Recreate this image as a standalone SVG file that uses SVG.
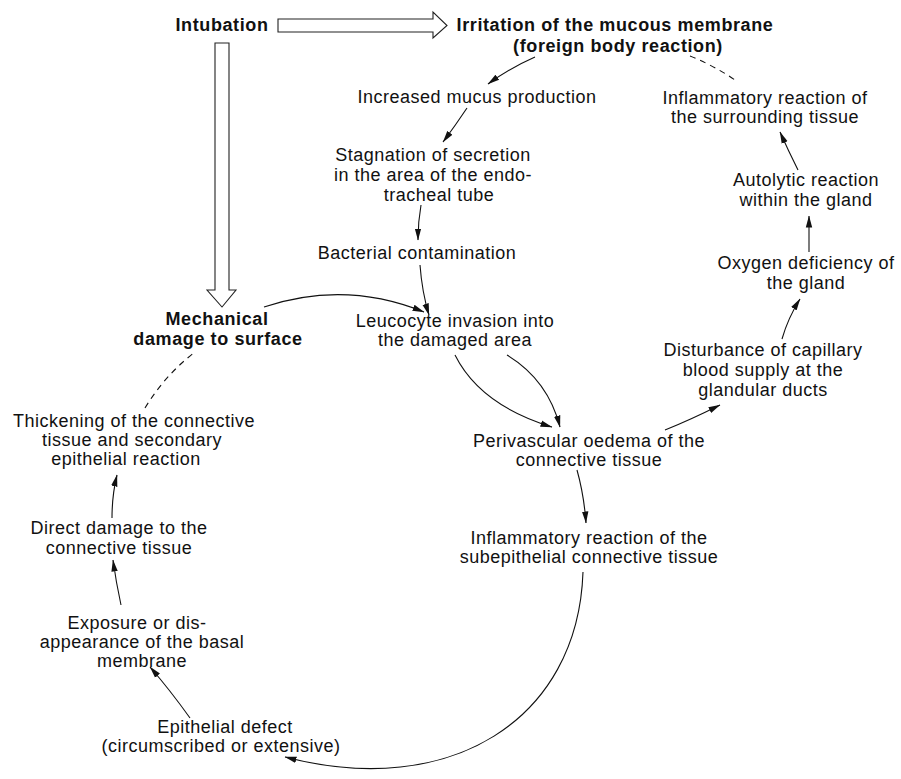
<svg xmlns="http://www.w3.org/2000/svg" width="901" height="779" viewBox="0 0 901 779">
<style>
text{font-family:"Liberation Sans",Arial,Helvetica,sans-serif;font-size:18px;letter-spacing:0.5px;fill:#111;text-anchor:middle}
.b{font-weight:bold;letter-spacing:0.6px}
.c{fill:none;stroke:#111;stroke-width:1.1}
.a{marker-end:url(#ah)}
.d{stroke-dasharray:6 5}
.blk{fill:#fff;stroke:#222;stroke-width:1.1}
</style>
<defs>
<marker id="ah" viewBox="0 0 12 8" refX="11.5" refY="4" markerWidth="12" markerHeight="8" orient="auto" markerUnits="userSpaceOnUse">
<path d="M0,0.8 L12,4 L0,7.2 z" fill="#111"/>
</marker>
</defs>
<rect width="901" height="779" fill="#fff"/>

<g id="block-arrows">
<path class="blk" d="M278,19 L433,19 L433,12 L447,25.5 L433,38 L433,32 L278,32 Z"/>
<path class="blk" d="M215,43 L229,43 L229,290 L236,290 L222,307 L207,290 L215,290 Z"/>
</g>

<g id="n-intubation"><text class="b" x="222" y="31">Intubation</text></g>
<g id="n-irritation"><text class="b" x="615" y="31">Irritation of the mucous membrane</text><text class="b" x="618" y="52">(foreign body reaction)</text></g>
<g id="n-mucus"><text x="477" y="103">Increased mucus production</text></g>
<g id="n-stagnation"><text x="433" y="161">Stagnation of secretion</text><text x="433" y="181">in the area of the endo-</text><text x="439" y="201">tracheal tube</text></g>
<g id="n-bacterial"><text x="417" y="259">Bacterial contamination</text></g>
<g id="n-leucocyte"><text x="455" y="327">Leucocyte invasion into</text><text x="455" y="346">the damaged area</text></g>
<g id="n-mechanical"><text class="b" x="217" y="325">Mechanical</text><text class="b" x="218" y="345">damage to surface</text></g>
<g id="n-perivascular"><text x="589" y="447">Perivascular oedema of the</text><text x="589" y="466">connective tissue</text></g>
<g id="n-subepithelial"><text x="589" y="544">Inflammatory reaction of the</text><text x="589" y="563">subepithelial connective tissue</text></g>
<g id="n-surrounding"><text x="765" y="104">Inflammatory reaction of</text><text x="765" y="123">the surrounding tissue</text></g>
<g id="n-autolytic"><text x="806" y="186">Autolytic reaction</text><text x="806" y="206">within the gland</text></g>
<g id="n-oxygen"><text x="806" y="269">Oxygen deficiency of</text><text x="806" y="289">the gland</text></g>
<g id="n-disturbance"><text x="763" y="356">Disturbance of capillary</text><text x="763" y="376">blood supply at the</text><text x="763" y="396">glandular ducts</text></g>
<g id="n-thickening"><text x="134" y="427">Thickening of the connective</text><text x="132" y="446">tissue and secondary</text><text x="126" y="465">epithelial reaction</text></g>
<g id="n-direct"><text x="119" y="534">Direct damage to the</text><text x="119" y="554">connective tissue</text></g>
<g id="n-exposure"><text x="137" y="629">Exposure or dis-</text><text x="142" y="648">appearance of the basal</text><text x="142" y="667">membrane</text></g>
<g id="n-epithelial"><text x="225" y="733">Epithelial defect</text><text x="221" y="752">(circumscribed or extensive)</text></g>

<g id="connectors">
<path class="c a" d="M535,57 Q510,68 488,84"/>
<path class="c a" d="M467,108 Q455,126 443,142"/>
<path class="c a" d="M421,205 Q418,222 418,240"/>
<path class="c a" d="M420,265 Q422,292 429,315"/>
<path class="c a" d="M264,307 Q345,280 424,312"/>
<path class="c a" d="M455,355 Q480,405 552,427"/>
<path class="c a" d="M507,355 Q548,380 560,427"/>
<path class="c a" d="M665,430 Q690,420 720,405"/>
<path class="c a" d="M782,339 Q788,318 800,299"/>
<path class="c a" d="M809,252 L809,216"/>
<path class="c a" d="M798,170 Q788,150 780,132"/>
<path class="c d" d="M690,56 Q715,66 738,82"/>
<path class="c a" d="M577,470 Q584,495 586,523"/>
<path class="c a" d="M583,572 C578,720 450,800 285,757"/>
<path class="c a" d="M190,718 Q170,690 150,667"/>
<path class="c a" d="M121,605 Q116,582 113,560"/>
<path class="c a" d="M112,518 Q112,495 117,475"/>
<path class="c d" d="M145,408 Q165,375 195,352"/>
</g>
</svg>
